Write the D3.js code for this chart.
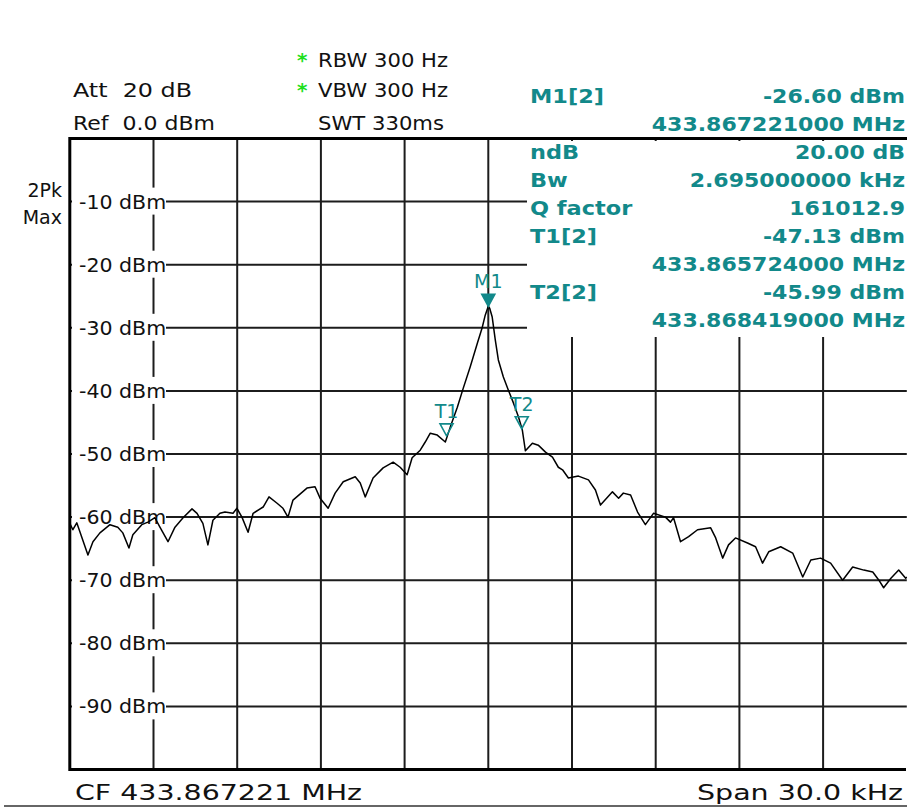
<!DOCTYPE html>
<html>
<head>
<meta charset="utf-8">
<script src="https://cdn.jsdelivr.net/npm/d3@7"></script>
<style>
  html, body { margin: 0; padding: 0; background: #fff; }
  svg { display: block; }
  text { font-family: "DejaVu Sans", Verdana, sans-serif; }
</style>
</head>
<body>
<svg id="chart" width="907" height="807"></svg>
<script>
// spectrum trace, offset from CF in kHz and level in dBm
const traceFreq = [
  -15.00, -14.89, -14.75, -14.35, -14.17, -13.92, -13.56, -13.28, -13.10, -12.88,
  -12.74, -12.42, -12.20, -11.95, -11.77, -11.48, -11.23, -10.94, -10.62, -10.44,
  -10.23, -10.05, -9.87, -9.62, -9.44, -9.15, -9.01, -8.83, -8.61, -8.43,
  -8.07, -7.86, -7.57, -7.36, -7.18, -7.00, -6.50, -6.21, -6.03, -5.74,
  -5.49, -5.20, -4.77, -4.59, -4.41, -4.13, -3.77, -3.41, -3.16, -2.91,
  -2.73, -2.44, -2.26, -2.08, -1.83, -1.54, -1.36, -1.11, -0.90, -0.65,
  -0.39, -0.22, -0.11, 0.00, 0.05, 0.14, 0.25, 0.36, 0.54, 0.72,
  0.90, 1.08, 1.22, 1.33, 1.58, 1.79, 2.05, 2.30, 2.51, 2.66,
  2.87, 3.23, 3.59, 3.84, 4.02, 4.45, 4.67, 4.84, 5.10, 5.35,
  5.63, 5.92, 6.35, 6.53, 6.64, 6.89, 7.18, 7.50, 7.97, 8.15,
  8.40, 8.61, 8.86, 9.29, 9.58, 9.83, 10.05, 10.48, 10.91, 11.27,
  11.56, 11.91, 12.27, 12.70, 13.06, 13.46, 13.78, 14.00, 14.17, 14.43,
  14.71, 14.96, 15.00
];
const traceLevel = [
  -61.0, -62.0, -60.9, -66.0, -63.9, -62.5, -61.2, -61.6, -62.5, -64.9,
  -62.8, -61.2, -60.8, -60.1, -61.6, -63.9, -61.6, -60.1, -58.7, -59.4,
  -61.0, -64.4, -60.5, -59.4, -59.2, -59.4, -58.6, -60.0, -62.4, -59.4,
  -58.4, -56.8, -57.8, -58.6, -60.0, -57.3, -55.4, -55.2, -57.0, -58.6,
  -56.2, -54.4, -53.6, -54.6, -56.8, -53.8, -52.2, -51.3, -52.1, -53.3,
  -50.6, -49.4, -48.1, -46.7, -47.0, -48.1, -45.7, -42.6, -39.6, -36.2,
  -32.4, -30.0, -28.0, -26.6, -26.9, -28.3, -31.9, -35.1, -37.8, -39.9,
  -41.9, -44.1, -46.2, -49.5, -48.3, -48.6, -49.7, -50.5, -52.1, -52.5,
  -53.8, -53.5, -54.1, -55.7, -58.1, -56.0, -57.0, -56.2, -56.5, -59.2,
  -61.2, -59.4, -60.0, -60.8, -60.1, -63.9, -63.1, -62.0, -61.7, -63.3,
  -66.5, -64.4, -63.3, -64.1, -64.7, -67.3, -65.5, -64.7, -65.7, -69.5,
  -66.8, -66.5, -67.3, -70.0, -67.9, -68.4, -68.7, -70.0, -71.2, -69.7,
  -68.4, -69.7, -69.5
];

const freqGrid = [-12, -9, -6, -3, 0, 3, 6, 9, 12];
const levelGrid = [-10, -20, -30, -40, -50, -60, -70, -80, -90];
const levelLabels = ['-10 dBm', '-20 dBm', '-30 dBm', '-40 dBm', '-50 dBm',
                     '-60 dBm', '-70 dBm', '-80 dBm', '-90 dBm'];

const markerNames = ['M1', 'T1', 'T2'];
const markerFreq = [0, -1.497, 1.198];
const markerLevel = [-26.60, -47.13, -45.99];

// marker info table (left column, right column)
const infoLeft = ['M1[2]', '', 'ndB', 'Bw', 'Q factor', 'T1[2]', '', 'T2[2]', ''];
const infoRight = ['-26.60 dBm', '433.867221000 MHz', '20.00 dB', '2.695000000 kHz',
                   '161012.9', '-47.13 dBm', '433.865724000 MHz', '-45.99 dBm',
                   '433.868419000 MHz'];

const TEAL = '#12898a';
const svg = d3.select('#chart');

const x = d3.scaleLinear().domain([-15, 15]).range([69.8, 906.8]);
const y = d3.scaleLinear().domain([-100, 0]).range([769.5, 138.5]);

// stretch text horizontally like the instrument screenshot
function stretch(sel, k) {
  sel.each(function () {
    const w = this.getComputedTextLength();
    if (w > 0) d3.select(this).attr('textLength', w * k).attr('lengthAdjust', 'spacingAndGlyphs');
  });
}

// grid
const grid = svg.append('g').attr('stroke', '#1c1c1c').attr('stroke-width', 2);
grid.selectAll('line.v').data(freqGrid).join('line')
  .attr('x1', d => x(d)).attr('x2', d => x(d))
  .attr('y1', y(0)).attr('y2', y(-100));
grid.selectAll('line.h').data(levelGrid).join('line')
  .attr('x1', x(-15)).attr('x2', x(15))
  .attr('y1', d => y(d)).attr('y2', d => y(d));

// white area behind marker table
svg.append('rect').attr('x', 527).attr('y', 141).attr('width', 382).attr('height', 196)
  .attr('fill', '#fff');

// level labels on white boxes
svg.selectAll('rect.lb').data(levelGrid).join('rect')
  .attr('x', 72).attr('y', d => y(d) - 14).attr('width', 94).attr('height', 27)
  .attr('fill', '#fff');
svg.selectAll('text.lv').data(levelLabels).join('text')
  .attr('x', 79).attr('y', (d, i) => y(levelGrid[i]) + 7)
  .attr('font-size', 19).attr('fill', '#111')
  .text(d => d)
  .call(stretch, 1.08);

// trace
const line = d3.line().x(d => x(d[0])).y(d => y(d[1]));
svg.append('path')
  .datum(d3.zip(traceFreq, traceLevel))
  .attr('d', line)
  .attr('fill', 'none').attr('stroke', '#000').attr('stroke-width', 1.5)
  .attr('stroke-linejoin', 'round');

// markers
markerNames.forEach((name, i) => {
  const mx = x(markerFreq[i]), my = y(markerLevel[i]);
  svg.append('path')
    .attr('d', `M${mx - 6.5},${my - 12}L${mx + 6.5},${my - 12}L${mx},${my}Z`)
    .attr('fill', i === 0 ? TEAL : 'none')
    .attr('stroke', TEAL).attr('stroke-width', 1.6);
  svg.append('text')
    .attr('x', mx).attr('y', my - 18)
    .attr('text-anchor', 'middle').attr('font-size', 19).attr('fill', TEAL)
    .text(name);
});

// frame (right edge falls off the screenshot)
svg.append('path')
  .attr('d', `M907,${y(0)}H${x(-15)}V${y(-100)}H906`)
  .attr('fill', 'none').attr('stroke', '#000').attr('stroke-width', 3);

// marker table
const infoY = i => 103 + i * 28;
svg.selectAll('text.il').data(infoLeft).join('text')
  .attr('x', 530).attr('y', (d, i) => infoY(i))
  .attr('font-size', 19).attr('font-weight', 'bold').attr('fill', TEAL)
  .text(d => d)
  .call(stretch, 1.18);
svg.selectAll('text.ir').data(infoRight).join('text')
  .attr('x', 905).attr('y', (d, i) => infoY(i))
  .attr('text-anchor', 'end')
  .attr('font-size', 19).attr('font-weight', 'bold').attr('fill', TEAL)
  .text(d => d)
  .call(stretch, 1.16);

// header
const hdr = [
  { t: 'RBW 300 Hz', x: 318, y: 67, w: 130 },
  { t: 'VBW 300 Hz', x: 318, y: 97, w: 130 },
  { t: 'SWT 330ms', x: 318, y: 130, w: 126 },
  { t: 'Att  20 dB', x: 73, y: 97, w: 119 },
  { t: 'Ref  0.0 dBm', x: 73, y: 130, w: 142 }
];
svg.selectAll('text.hd').data(hdr).join('text')
  .attr('x', d => d.x).attr('y', d => d.y)
  .attr('font-size', 19).attr('fill', '#111')
  .attr('textLength', d => d.w).attr('lengthAdjust', 'spacingAndGlyphs')
  .attr('xml:space', 'preserve')
  .text(d => d.t);
svg.selectAll('text.ast').data([67, 97]).join('text')
  .attr('x', 297).attr('y', d => d)
  .attr('font-size', 20).attr('font-weight', 'bold').attr('fill', '#1ee01e')
  .text('*');

svg.append('text').attr('x', 62).attr('y', 197).attr('text-anchor', 'end')
  .attr('font-size', 19).attr('fill', '#111').text('2Pk');
svg.append('text').attr('x', 62).attr('y', 224).attr('text-anchor', 'end')
  .attr('font-size', 19).attr('fill', '#111').text('Max');

// footer
svg.append('text').attr('x', 75).attr('y', 800)
  .attr('font-size', 21).attr('fill', '#111')
  .attr('textLength', 287).attr('lengthAdjust', 'spacingAndGlyphs')
  .text('CF 433.867221 MHz');
svg.append('text').attr('x', 903).attr('y', 800).attr('text-anchor', 'end')
  .attr('font-size', 21).attr('fill', '#111')
  .attr('textLength', 206).attr('lengthAdjust', 'spacingAndGlyphs')
  .text('Span 30.0 kHz');
svg.append('line').attr('x1', 4).attr('x2', 907).attr('y1', 806).attr('y2', 806)
  .attr('stroke', '#333').attr('stroke-width', 1.5);
</script>
</body>
</html>
